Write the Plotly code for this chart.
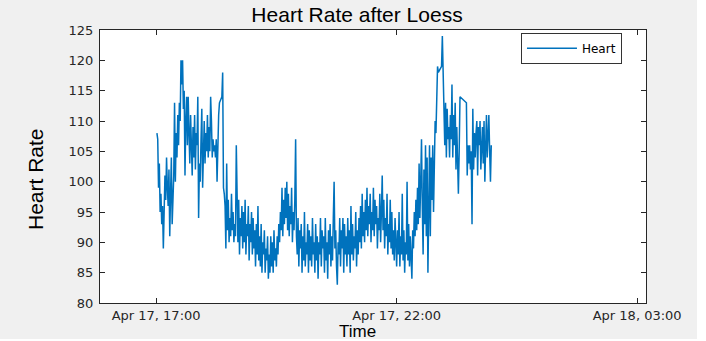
import pandas as pd
import plotly.graph_objects as go

# ---- data: heart-rate readings (1 sample / minute), in segments separated by gaps ----
# start offsets are minutes after Apr 17, 17:00
seg1_start = 1
seg1_values = [108, 107, 99, 103, 95, 98, 93, 96, 89, 95,
               101, 97, 104, 99, 96, 102, 91, 98, 104, 93,
               99, 101, 113, 100, 108, 104, 111, 106, 113, 110,
               120, 116, 120, 112, 115, 101, 110, 114, 106, 114,
               108, 103, 111, 105, 101, 109, 104, 111, 102, 108,
               106, 114, 94, 103, 100, 107, 112, 99, 105, 110,
               103, 108, 105, 111, 104, 109, 105, 114, 110, 104,
               107, 105, 106, 104, 107, 100]

seg2_start = 78
seg2_values = [111, 113]

seg3_start = 82
seg3_values = [114, 118, 99, 98, 96, 89, 103, 92, 97, 90,
               94, 91, 98, 92, 95, 90, 93, 91, 106, 93,
               90, 97, 88, 94, 91, 96, 89, 95, 90, 97,
               88, 93, 91, 96, 87, 93, 90, 95, 88, 94,
               89, 92, 86, 93, 88, 96, 87, 91, 86, 93,
               85, 90, 88, 92, 85, 89, 87, 91, 84, 88,
               85, 91, 86, 90, 85, 92, 87, 89, 86, 91,
               88, 93, 90, 95, 92, 99, 91, 97, 93, 99,
               94, 100, 92, 98, 91, 96, 93, 99, 90, 95,
               92, 97, 107, 91, 88, 94, 86, 92, 89, 93,
               85, 91, 87, 95, 86, 90, 88, 93, 85, 92,
               87, 91, 86, 94, 88, 90, 85, 93, 87, 91,
               84, 90, 88, 94, 86, 92, 89, 91, 85, 94,
               87, 90, 84, 92, 88, 93, 86, 91, 87, 94,
               100, 89, 92, 86, 83, 90, 88, 94, 86, 92,
               89, 94, 85, 93, 88, 91, 86, 94, 88, 92,
               85, 96, 88, 93, 87, 91, 89, 95, 86, 92,
               88, 94, 90, 96, 89, 98, 91, 95, 90, 97,
               92, 99, 91, 96, 93, 98, 90, 95, 92, 99,
               91, 97, 93, 96, 89, 94, 92, 98, 90, 95,
               101, 92, 97, 89, 94, 91, 98, 88, 93, 90,
               97, 89, 95, 88, 92, 87, 94, 90, 86, 92,
               88, 95, 86, 91, 88, 98, 87, 92, 85, 90,
               88, 100, 87, 93, 86, 91, 88, 84, 92, 89,
               95, 91, 97, 92, 99, 93, 103, 94, 100, 107,
               96, 88, 102, 93, 106, 91, 104, 85, 95, 106,
               91, 104, 97, 106, 95, 104, 110, 108, 113, 119,
               118]

seg4_start = 356
seg4_values = [119, 124, 116, 110, 106, 113, 104, 112, 107, 109,
               104, 111, 107, 116, 104, 111, 106, 113, 102, 109,
               103, 98, 105, 114]

seg5_start = 387
seg5_values = [113, 101, 106, 103, 106, 102, 105, 93,
               112, 102, 108, 104, 108, 110, 101, 109, 106, 110,
               102, 108, 109, 103, 110, 100, 108, 111, 104, 110,
               111, 105, 100, 106]

segments = [(seg1_start, seg1_values), (seg2_start, seg2_values),
            (seg3_start, seg3_values), (seg4_start, seg4_values),
            (seg5_start, seg5_values)]

origin = pd.Timestamp("2017-04-17 17:00")
times, rates = [], []
for start, vals in segments:
    for i, v in enumerate(vals):
        times.append(origin + pd.Timedelta(minutes=start + i))
        rates.append(v)

tick_times = ["2017-04-17 17:00", "2017-04-17 22:00", "2017-04-18 03:00"]
tick_labels = ["Apr 17, 17:00", "Apr 17, 22:00", "Apr 18, 03:00"]
y_ticks = [80, 85, 90, 95, 100, 105, 110, 115, 120, 125]

fig = go.Figure()
fig.add_trace(go.Scatter(x=times, y=rates, mode="lines", name="Heart",
                         line=dict(color="#0072BD", width=1.5)))

axis_color = "#262626"
tick_font = dict(family="DejaVu Sans", size=13, color=axis_color)
label_font = dict(family="Liberation Sans", color="black")

fig.update_layout(
    width=706, height=341,
    margin=dict(l=100, r=60, t=30, b=38, autoexpand=False),
    paper_bgcolor="#f0f0f0",
    plot_bgcolor="white",
    title=dict(text="Heart Rate after Loess", x=357 / 706,
               xanchor="center", y=0.957, yanchor="middle",
               font=dict(label_font, size=21)),
    showlegend=True,
    legend=dict(x=0.771, y=0.99, xanchor="left", yanchor="top",
                bgcolor="white", bordercolor="#333333", borderwidth=1,
                font=dict(family="DejaVu Sans", size=12, color="black"),
                itemwidth=50, tracegroupgap=0),
    annotations=[
        dict(text="Time", xref="paper", yref="paper", x=(357 - 100) / 546,
             y=-28 / 273, xanchor="center", yanchor="middle", showarrow=False,
             font=dict(label_font, size=17)),
        dict(text="Heart Rate", xref="paper", yref="paper", x=-65 / 546,
             y=(303 - 179) / 273, xanchor="center", yanchor="middle",
             textangle=-90, showarrow=False, font=dict(label_font, size=21)),
    ],
    shapes=[
        dict(type="rect", xref="paper", yref="paper", x0=1.0 + 51 / 546, x1=1.2,
             y0=-0.3, y1=1.2, fillcolor="white", line=dict(width=0), layer="below"),
        dict(type="rect", xref="paper", yref="paper", x0=-0.3, x1=1.2,
             y0=-0.3, y1=-36 / 273, fillcolor="white", line=dict(width=0), layer="below"),
    ],
)

fig.update_xaxes(
    automargin=False,
    range=["2017-04-17 15:50", "2017-04-18 03:11"],
    tickmode="array", tickvals=tick_times, ticktext=tick_labels,
    ticks="inside", ticklen=5, tickwidth=1, tickcolor=axis_color,
    showline=True, linecolor=axis_color, linewidth=1.3, mirror="ticks",
    showgrid=False, zeroline=False, tickfont=tick_font,
)
fig.update_yaxes(
    automargin=False,
    range=[80, 125], tickmode="array", tickvals=y_ticks,
    ticks="inside", ticklen=5, tickwidth=1, tickcolor=axis_color,
    showline=True, linecolor=axis_color, linewidth=1.3, mirror="ticks",
    showgrid=False, zeroline=False, tickfont=tick_font, ticklabelstandoff=3,
)

fig.write_html("out.html", config={"displayModeBar": False},
               post_script="document.body.style.margin='0';document.body.style.padding='0';")
